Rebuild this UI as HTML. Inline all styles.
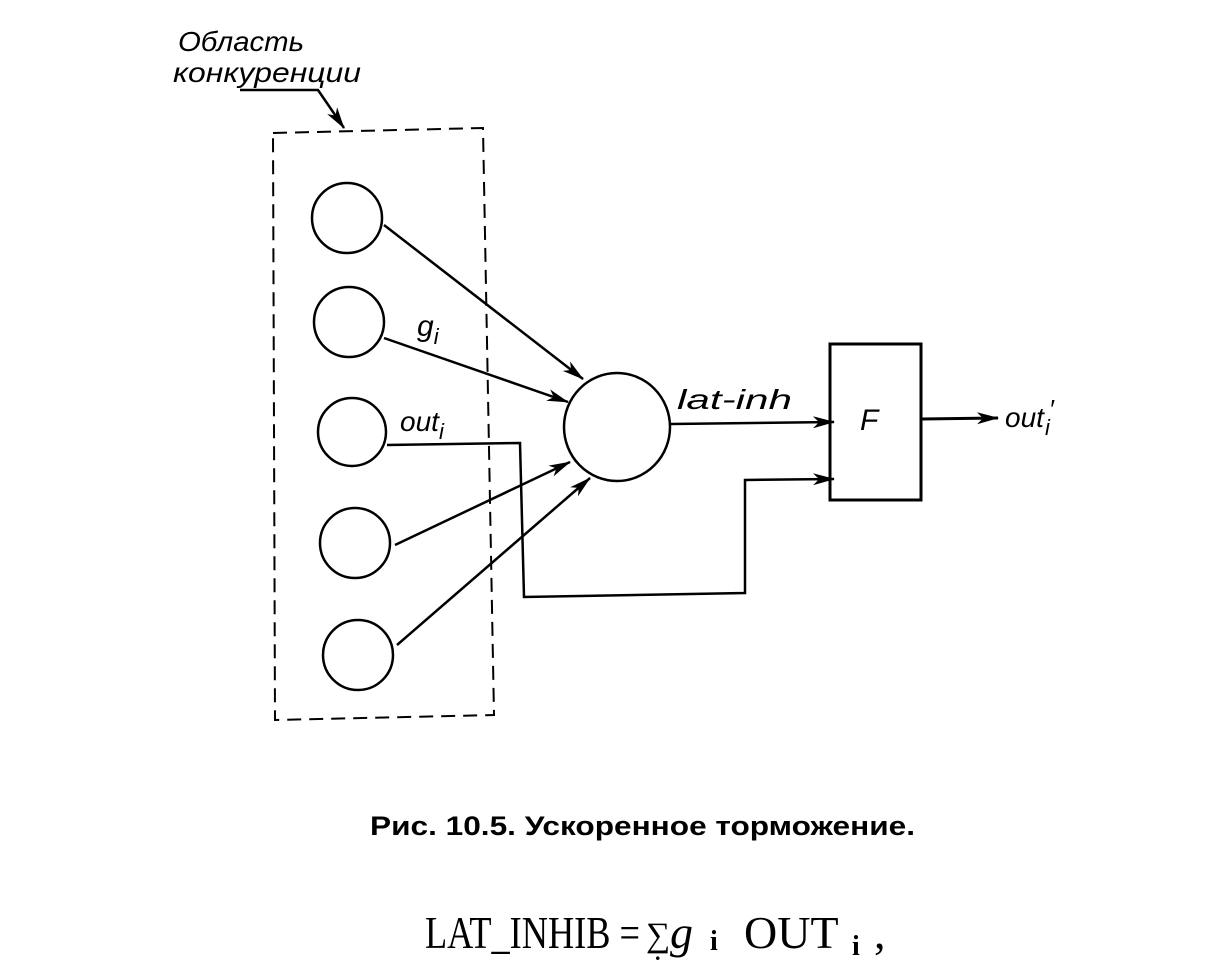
<!DOCTYPE html>
<html><head><meta charset="utf-8"><style>html,body{margin:0;padding:0;background:#fff}svg{display:block}</style></head>
<body>
<svg width="1228" height="969" viewBox="0 0 1228 969" xmlns="http://www.w3.org/2000/svg">
<defs>
<marker id="a" markerWidth="22" markerHeight="12" refX="21" refY="6" orient="auto" markerUnits="userSpaceOnUse">
<path d="M0,0 L22,6 L0,12 L6,6 Z" fill="#000"/></marker>
</defs>
<g fill="none" stroke="#000" stroke-width="2.5">
<polygon points="273,133 483,128 494,715 275,720" stroke-dasharray="14,8" stroke-width="2"/>
<circle cx="347" cy="218" r="35"/>
<circle cx="349" cy="322" r="35"/>
<circle cx="352" cy="432" r="34"/>
<circle cx="355" cy="543" r="35"/>
<circle cx="358" cy="655" r="35"/>
<ellipse cx="617" cy="427" rx="53" ry="54"/>
<rect x="830" y="344" width="91" height="156" stroke-width="3"/>
<line x1="384" y1="225" x2="583" y2="379" marker-end="url(#a)"/>
<line x1="384" y1="338" x2="568" y2="402" marker-end="url(#a)"/>
<line x1="395" y1="545" x2="570" y2="462" marker-end="url(#a)"/>
<line x1="397" y1="645" x2="590" y2="478" marker-end="url(#a)"/>
<polyline points="387,445 520,443 524,597 745,593 745,480 834,479" marker-end="url(#a)"/>
<line x1="671" y1="424" x2="834" y2="422" marker-end="url(#a)"/>
<line x1="921" y1="419" x2="998" y2="418" stroke-width="3" marker-end="url(#a)"/>
<polyline points="240,90 318,90 344,128" stroke-width="2.5" marker-end="url(#a)"/>
</g>
<g font-family="Liberation Sans, sans-serif" font-style="italic" fill="#000">
<text x="178" y="51" font-size="28" textLength="126" lengthAdjust="spacingAndGlyphs">Область</text>
<text x="173" y="82" font-size="28" textLength="188" lengthAdjust="spacingAndGlyphs">конкуренции</text>
<text x="417" y="336" font-size="30">g<tspan font-size="22" dy="8">i</tspan></text>
<text x="400" y="431" font-size="28">out<tspan font-size="22" dy="8">i</tspan></text>
<text x="677" y="409" font-size="28" textLength="115" lengthAdjust="spacingAndGlyphs">lat-inh</text>
<text x="860" y="430" font-size="30">F</text>
<text x="1005" y="427" font-size="28">out</text>
<text x="1045" y="435" font-size="22">i</text>
<text x="1049" y="418" font-size="26">′</text>
</g>
<text x="370" y="835" font-family="Liberation Sans, sans-serif" font-size="27" font-weight="bold" textLength="545" lengthAdjust="spacingAndGlyphs">Рис. 10.5.  Ускоренное  торможение.</text>
<g font-family="Liberation Serif, serif" fill="#000">
<text x="425" y="948" font-size="46" textLength="215" lengthAdjust="spacingAndGlyphs">LAT_INHIB =</text>
<text x="646" y="946" font-size="34">∑</text>
<text x="655" y="960" font-size="22" font-weight="bold">.</text>
<text x="670" y="948" font-size="46" font-style="italic">g</text>
<text x="710" y="950" font-size="28" font-weight="bold">i</text>
<text x="744" y="948" font-size="46">OUT</text>
<text x="852" y="955" font-size="28" font-weight="bold">i</text>
<text x="874" y="948" font-size="46">,</text>
</g>
</svg>
</body></html>
